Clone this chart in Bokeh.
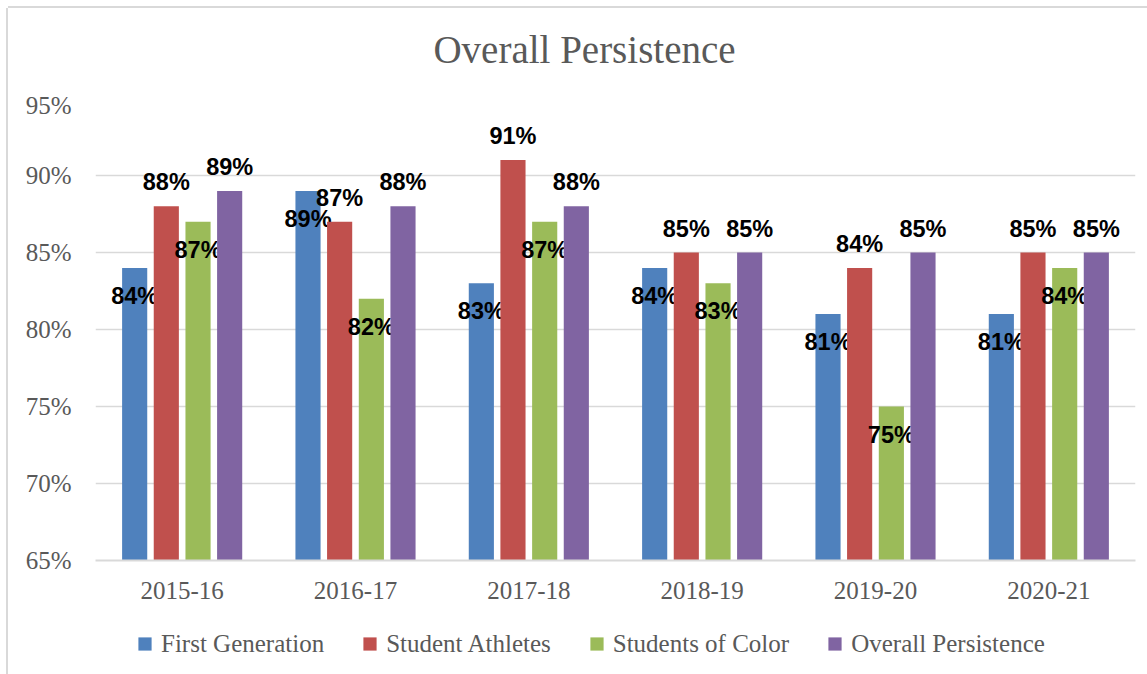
from bokeh.plotting import figure
from bokeh.layouts import column
from bokeh.models import (FactorRange, Range1d, Legend, LegendItem, ColumnDataSource,
                          PrintfTickFormatter, FixedTicker, Label)
from bokeh.transform import dodge
from bokeh.core.properties import value
from bokeh.embed import file_html
from bokeh.resources import INLINE

# ---- data ----
years = ["2015-16", "2016-17", "2017-18", "2018-19", "2019-20", "2020-21"]
series_names = ["First Generation", "Student Athletes", "Students of Color", "Overall Persistence"]
first_generation = [84, 89, 83, 84, 81, 81]
student_athletes = [88, 87, 91, 85, 84, 85]
students_of_color = [87, 82, 87, 83, 75, 84]
overall_persistence = [89, 88, 88, 85, 85, 85]
y_ticks = [65, 70, 75, 80, 85, 90, 95]
title_text = "Overall Persistence"

# ---- style ----
series_values = [first_generation, student_athletes, students_of_color, overall_persistence]
colors = ["#4F81BD", "#C0504D", "#9BBB59", "#8064A2"]
dodges = [-0.274, -0.0915, 0.0915, 0.274]
label_dy = [28, -24, 28, -24]  # inside end / outside end labels (screen px)
GRAY = "#595959"
SERIF = "Liberation Serif"

x_range = FactorRange(factors=years, range_padding=0)
y_range = Range1d(65, 95)


def strip(h):
    f = figure(x_range=x_range, y_range=y_range, width=1139, height=h,
               output_backend="svg", toolbar_location=None,
               min_border_left=0, min_border_right=0, min_border_top=0, min_border_bottom=0)
    f.axis.visible = False
    f.grid.visible = False
    f.outline_line_color = None
    return f


# title strip
tf = strip(83)
tf.add_layout(Label(x=489, y=42, x_units="screen", y_units="screen", text=title_text,
                    text_align="center", text_baseline="alphabetic",
                    text_font=SERIF, text_font_size="39px", text_color=GRAY))

# main chart
p = figure(x_range=x_range, y_range=y_range,
           width=1139, height=532,
           output_backend="svg", toolbar_location=None,
           min_border_left=87, min_border_right=12,
           min_border_top=7, min_border_bottom=63)

# legend strip
lg = strip(51)

legend_items = []
for name, vals, col, dx, dy in zip(series_names, series_values, colors, dodges, label_dy):
    src = ColumnDataSource(dict(x=years, y=vals, label=[f"{v}%" for v in vals]))
    xd = dodge("x", dx, range=x_range)
    p.vbar(x=xd, top="y", bottom=65, width=0.145, fill_color=col, line_color=None, source=src)
    p.text(x=xd, y="y", text="label", source=src,
           text_font=value("Liberation Sans"), text_font_style="bold",
           text_font_size="23.5px", text_align="center", text_baseline="middle",
           text_color="black", y_offset=dy)
    lr = lg.scatter(x=xd, y="y", size=0, marker="square", fill_color=col,
                    line_color=None, source=src)
    legend_items.append(LegendItem(label=name, renderers=[lr]))

legend = Legend(items=legend_items, location=(33, 14), orientation="horizontal",
                glyph_width=33, glyph_height=33, label_standoff=0, spacing=29,
                padding=0, margin=0, border_line_color=None, background_fill_alpha=0,
                label_text_font=SERIF, label_text_font_size="25px",
                label_text_color=GRAY)
lg.add_layout(legend, "center")

# axes
p.yaxis.ticker = FixedTicker(ticks=y_ticks)
p.yaxis.formatter = PrintfTickFormatter(format="%d%%")
p.yaxis.axis_line_color = None
p.yaxis.major_tick_line_color = None
p.yaxis.minor_tick_line_color = None
p.yaxis.major_label_standoff = 18
p.xaxis.axis_line_color = "#d9d9d9"
p.xaxis.axis_line_width = 2
p.xaxis.major_tick_line_color = None
p.xaxis.minor_tick_line_color = None
p.xaxis.major_label_standoff = 15
for ax in (p.xaxis, p.yaxis):
    ax.major_label_text_font = SERIF
    ax.major_label_text_font_size = "25px"
    ax.major_label_text_color = GRAY

p.xgrid.grid_line_color = None
p.ygrid.grid_line_color = "#d9d9d9"
p.ygrid.grid_line_width = 1.5
p.outline_line_color = None

layout = column(tf, p, lg, spacing=0)
layout.styles = {"margin-left": "8px", "margin-top": "8px",
                 "box-shadow": "-2px 0 0 0 #d9d9d9, 0 -2px 0 0 #d9d9d9"}

open("out.html", "w").write(file_html(layout, INLINE, title="Overall Persistence"))
